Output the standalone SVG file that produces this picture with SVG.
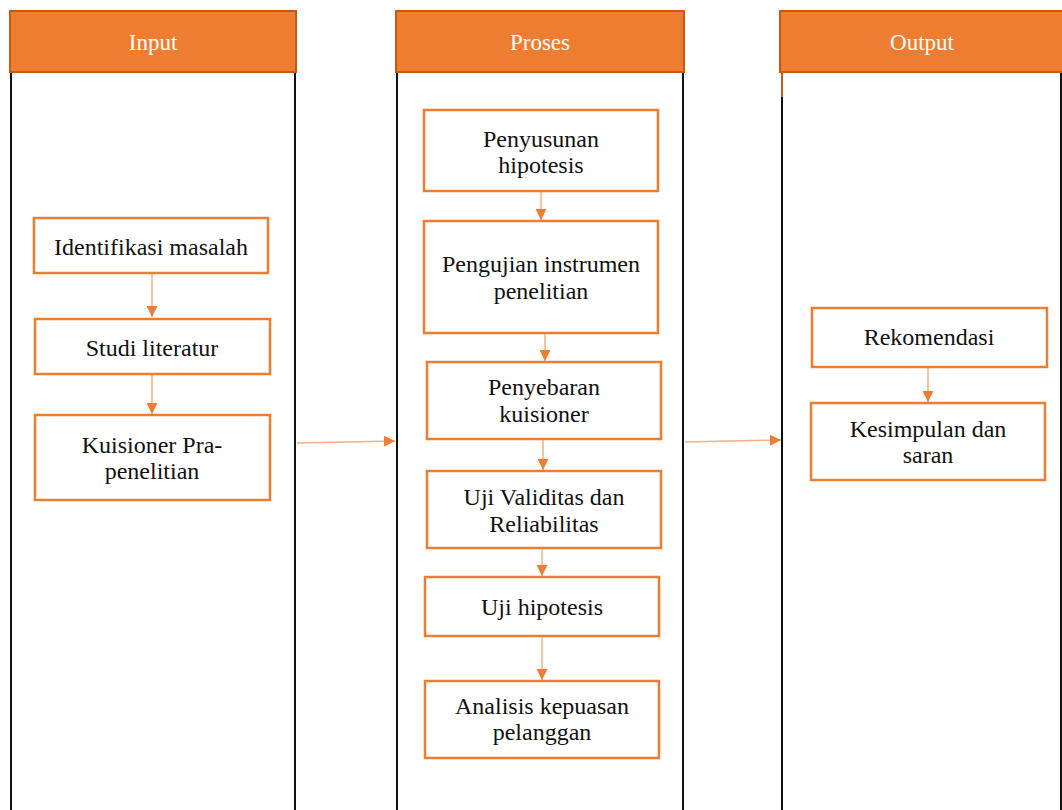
<svg xmlns="http://www.w3.org/2000/svg" width="1062" height="810" viewBox="0 0 1062 810">
<defs>
<marker id="ah" viewBox="0 0 10 10" refX="10" refY="5" markerWidth="11" markerHeight="11" markerUnits="userSpaceOnUse" orient="auto">
<path d="M0,0 L10,5 L0,10 z" fill="#ED7D31"/>
</marker>
<style>
.hdr{fill:#ED7D31;stroke:#C55A11;stroke-width:2}
.htxt{font-family:"Liberation Serif",serif;font-size:23px;fill:#FFFFFF;text-anchor:middle}
.col{stroke:#111;stroke-width:2;fill:none}
.box{fill:#FFFFFF;stroke:#ED7D31;stroke-width:2.5}
.txt{font-family:"Liberation Serif",serif;font-size:24px;fill:#111;text-anchor:middle}
.con{stroke:#F4B183;stroke-width:1.5;fill:none;marker-end:url(#ah)}
</style>
</defs>
<rect width="1062" height="810" fill="#FFFFFF"/>
<g id="col-input">
<line class="col" x1="11" y1="72" x2="11" y2="810"/>
<line class="col" x1="295" y1="72" x2="295" y2="810"/>
<rect class="hdr" x="10" y="11" width="286" height="61"/>
<text class="htxt" x="153" y="50">Input</text>
</g>
<g id="col-proses">
<line class="col" x1="397" y1="72" x2="397" y2="810"/>
<line class="col" x1="683" y1="72" x2="683" y2="810"/>
<rect class="hdr" x="396" y="11" width="288" height="61"/>
<text class="htxt" x="540" y="50">Proses</text>
</g>
<g id="col-output">
<line class="col" x1="782" y1="72" x2="782" y2="810"/>
<line x1="782" y1="72" x2="782" y2="97" stroke="#C55A11" stroke-width="2"/>
<line class="col" x1="1061" y1="72" x2="1061" y2="810"/>
<rect class="hdr" x="780" y="11" width="284" height="61"/>
<text class="htxt" x="922" y="50">Output</text>
</g>
<g id="connectors">
<line class="con" x1="152" y1="274" x2="152" y2="317"/>
<line class="con" x1="152" y1="375" x2="152" y2="414"/>
<line class="con" x1="297" y1="443" x2="395" y2="441"/>
<line class="con" x1="541" y1="192" x2="541" y2="220"/>
<line class="con" x1="545" y1="334" x2="545" y2="361"/>
<line class="con" x1="543" y1="440" x2="543" y2="470"/>
<line class="con" x1="542" y1="549" x2="542" y2="576"/>
<line class="con" x1="542" y1="637" x2="542" y2="680"/>
<line class="con" x1="685" y1="442" x2="781" y2="440"/>
<line class="con" x1="928" y1="368" x2="928" y2="402"/>
</g>
<g id="n-identifikasi">
<rect class="box" x="34" y="218" width="234" height="55"/>
<text class="txt" x="151" y="255">Identifikasi masalah</text>
</g>
<g id="n-studi">
<rect class="box" x="35" y="319" width="235" height="55"/>
<text class="txt" x="152" y="356">Studi literatur</text>
</g>
<g id="n-kuisioner">
<rect class="box" x="35" y="415" width="235" height="85"/>
<text class="txt" x="152" y="453">Kuisioner Pra-</text>
<text class="txt" x="152" y="479">penelitian</text>
</g>
<g id="n-penyusunan">
<rect class="box" x="424" y="110" width="234" height="81"/>
<text class="txt" x="541" y="147">Penyusunan</text>
<text class="txt" x="541" y="173">hipotesis</text>
</g>
<g id="n-pengujian">
<rect class="box" x="424" y="221" width="234" height="112"/>
<text class="txt" x="541" y="272">Pengujian instrumen</text>
<text class="txt" x="541" y="299">penelitian</text>
</g>
<g id="n-penyebaran">
<rect class="box" x="427" y="362" width="234" height="77"/>
<text class="txt" x="544" y="395">Penyebaran</text>
<text class="txt" x="544" y="422">kuisioner</text>
</g>
<g id="n-validitas">
<rect class="box" x="427" y="471" width="234" height="77"/>
<text class="txt" x="544" y="505">Uji Validitas dan</text>
<text class="txt" x="544" y="532">Reliabilitas</text>
</g>
<g id="n-ujihipotesis">
<rect class="box" x="425" y="577" width="234" height="59"/>
<text class="txt" x="542" y="615">Uji hipotesis</text>
</g>
<g id="n-analisis">
<rect class="box" x="425" y="681" width="234" height="77"/>
<text class="txt" x="542" y="714">Analisis kepuasan</text>
<text class="txt" x="542" y="740">pelanggan</text>
</g>
<g id="n-rekomendasi">
<rect class="box" x="812" y="308" width="235" height="59"/>
<text class="txt" x="929" y="345">Rekomendasi</text>
</g>
<g id="n-kesimpulan">
<rect class="box" x="811" y="403" width="234" height="77"/>
<text class="txt" x="928" y="437">Kesimpulan dan</text>
<text class="txt" x="928" y="463">saran</text>
</g>
</svg>
